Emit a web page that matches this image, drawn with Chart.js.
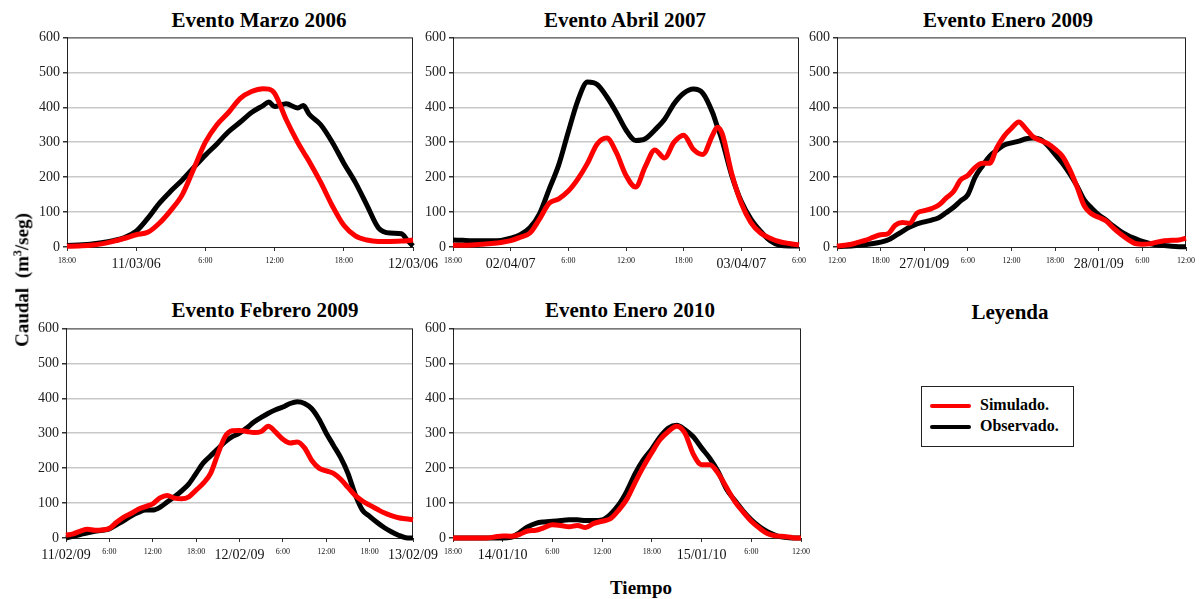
<!DOCTYPE html>
<html>
<head>
<meta charset="utf-8">
<title>Eventos de caudal</title>
<script src="https://cdn.jsdelivr.net/npm/chart.js@4.4.1/dist/chart.umd.min.js"></script>
<style>
    body { margin: 0; background: #fff; }
    #page { position: relative; width: 1201px; height: 599px; overflow: hidden;
            font-family: 'Liberation Serif', 'Times New Roman', serif; color: #000; }
    .plot { position: absolute; }
    .ttl { position: absolute; font-weight: bold; font-size: 21px; line-height: 22px;
           white-space: nowrap; transform: translateX(-50%); }
    #ylab { position: absolute; left: 22px; top: 280px; font-weight: bold; font-size: 19px;
            white-space: nowrap; transform: translate(-50%, -50%) rotate(-90deg); }
    #xlab { position: absolute; left: 641px; top: 577px; font-weight: bold; font-size: 19px;
            transform: translateX(-50%); }
    #legbox { position: absolute; left: 921px; top: 386px; width: 153px; height: 61px;
              border: 1px solid #222; box-sizing: border-box; }
    .legrow { position: absolute; left: 8px; font-weight: bold; font-size: 16px; line-height: 18px; white-space: nowrap; }
    .legrow span.ln { display: inline-block; width: 41px; height: 4px; border-radius: 2px;
                      vertical-align: middle; margin-right: 9px; }
</style>
</head>
<body>
<div id="page">
    <div class="ttl" style="left:259px;top:9px">Evento Marzo 2006</div>
    <div class="ttl" style="left:625px;top:9px">Evento Abril 2007</div>
    <div class="ttl" style="left:1008px;top:9px">Evento Enero 2009</div>
    <div class="ttl" style="left:265px;top:299px">Evento Febrero 2009</div>
    <div class="ttl" style="left:630px;top:299px">Evento Enero 2010</div>
    <div class="ttl" style="left:1010px;top:301px">Leyenda</div>

    <div class="plot" id="w1"><canvas id="c1"></canvas></div>
    <div class="plot" id="w2"><canvas id="c2"></canvas></div>
    <div class="plot" id="w3"><canvas id="c3"></canvas></div>
    <div class="plot" id="w4"><canvas id="c4"></canvas></div>
    <div class="plot" id="w5"><canvas id="c5"></canvas></div>

    <div id="ylab">Caudal&nbsp; (m<sup style="font-size:12px">3</sup>/seg)</div>
    <div id="xlab">Tiempo</div>

    <div id="legbox">
        <div class="legrow" style="top:9px"><span class="ln" style="background:#ff0000"></span>Simulado.</div>
        <div class="legrow" style="top:30px"><span class="ln" style="background:#000"></span>Observado.</div>
    </div>
</div>

<script>
// caudal en m3/seg, eje x en horas desde el inicio de cada grafico

// Evento Marzo 2006 (inicio 10/03/06 18:00)
const marzoHoras = [0, 1, 2, 3, 4, 5, 6, 7, 8, 9, 10, 11, 12, 13, 14, 15, 16, 17, 17.5, 18, 19, 20, 20.5, 21, 22, 23, 24, 25, 26, 27, 28, 29, 29.5, 30];
const marzoSim = [2, 3, 5, 9, 16, 25, 35, 42, 68, 105, 150, 225, 300, 350, 385, 425, 445, 453, 452, 440, 365, 300, 272, 245, 185, 118, 62, 32, 20, 16, 16, 17, 18, 20];
const marzoObs = [4, 6, 8, 12, 18, 27, 45, 82, 125, 160, 192, 228, 263, 295, 330, 357, 385, 405, 415, 402, 410, 398, 405, 380, 350, 300, 240, 185, 120, 55, 40, 38, 20, 3];
const marzoTicks = [0, 6, 12, 18, 24, 30];
const marzoTickLabels = ['18:00', '11/03/06', '6:00', '12:00', '18:00', '12/03/06'];

// Evento Abril 2007 (inicio 01/04/07 18:00)
const abrilHoras = [0, 1, 2, 3, 4, 5, 6, 7, 8, 9, 10, 11, 12, 13, 14, 15, 16, 17, 18, 19, 20, 21, 22, 23, 24, 25, 26, 27, 27.5, 28, 29, 30, 31, 32, 33, 34, 35, 36];
const abrilSim = [5, 5, 6, 8, 10, 13, 18, 28, 40, 80, 125, 138, 160, 195, 240, 295, 312, 270, 205, 172, 230, 278, 255, 300, 320, 280, 265, 320, 343, 325, 210, 125, 70, 40, 25, 15, 10, 6];
const abrilObs = [20, 19, 18, 18, 18, 19, 25, 35, 55, 95, 165, 235, 330, 420, 472, 465, 430, 385, 335, 305, 310, 335, 365, 410, 440, 452, 440, 385, 345, 305, 205, 130, 80, 45, 18, 5, 3, 3];
const abrilTicks = [0, 6, 12, 18, 24, 30, 36];
const abrilTickLabels = ['18:00', '02/04/07', '6:00', '12:00', '18:00', '03/04/07', '6:00'];

// Evento Enero 2009 (inicio 26/01/09 12:00)
const enero09Horas = [0, 1, 2, 3, 4, 5, 6, 7, 8, 9, 10, 11, 12, 13, 14, 15, 16, 17, 18, 19, 20, 21, 22, 23, 24, 25, 26, 27, 28, 29, 30, 31, 32, 33, 34, 35, 36, 37, 38, 39, 40, 41, 42, 43, 44, 45, 46, 47, 48];
const enero09Sim = [2, 5, 8, 14, 20, 28, 35, 38, 62, 70, 68, 97, 104, 110, 120, 140, 158, 192, 205, 228, 240, 240, 285, 318, 340, 358, 338, 315, 305, 296, 280, 260, 222, 173, 118, 95, 85, 75, 55, 37, 22, 10, 8, 9, 14, 18, 19, 20, 25];
const enero09Obs = [1, 2, 3, 5, 7, 10, 14, 20, 32, 45, 57, 66, 72, 77, 84, 98, 113, 132, 150, 200, 232, 260, 277, 292, 298, 303, 310, 312, 308, 290, 265, 240, 210, 175, 135, 112, 92, 77, 60, 45, 33, 24, 16, 10, 6, 4, 2, 1, 1];
const enero09Ticks = [0, 6, 12, 18, 24, 30, 36, 42, 48];
const enero09TickLabels = ['12:00', '18:00', '27/01/09', '6:00', '12:00', '18:00', '28/01/09', '6:00', '12:00'];

// Evento Febrero 2009 (inicio 11/02/09 0:00)
const febreroHoras = [0, 1, 2, 3, 4, 5, 6, 7, 8, 9, 10, 11, 12, 13, 14, 15, 16, 17, 18, 19, 20, 21, 22, 23, 24, 25, 26, 27, 28, 29, 30, 31, 32, 33, 34, 35, 36, 37, 38, 39, 40, 41, 42, 43, 44, 45, 46, 47, 48];
const febreroSim = [8, 12, 20, 25, 22, 23, 27, 45, 60, 70, 82, 90, 98, 115, 122, 114, 112, 118, 137, 157, 185, 240, 290, 307, 308, 305, 302, 305, 320, 303, 283, 272, 275, 258, 222, 200, 192, 185, 168, 145, 122, 106, 94, 83, 72, 64, 58, 55, 52];
const febreroObs = [0, 5, 10, 15, 19, 22, 26, 38, 50, 63, 73, 80, 80, 88, 103, 118, 135, 155, 185, 215, 235, 255, 275, 290, 300, 315, 332, 345, 357, 367, 375, 385, 390, 385, 370, 340, 300, 265, 230, 185, 125, 80, 62, 45, 30, 18, 8, 1, 0];
const febreroTicks = [0, 6, 12, 18, 24, 30, 36, 42, 48];
const febreroTickLabels = ['11/02/09', '6:00', '12:00', '18:00', '12/02/09', '6:00', '12:00', '18:00', '13/02/09'];

// Evento Enero 2010 (inicio 13/01/10 18:00)
const enero10Horas = [0, 1, 2, 3, 4, 5, 6, 7, 8, 9, 10, 11, 12, 13, 14, 15, 16, 17, 18, 19, 20, 21, 22, 23, 24, 25, 26, 27, 28, 29, 30, 31, 32, 33, 34, 35, 36, 37, 38, 39, 40, 41, 42];
const enero10Sim = [0, 0, 0, 0, 0, 3, 6, 5, 10, 20, 22, 30, 38, 36, 32, 36, 30, 42, 48, 55, 80, 112, 160, 205, 245, 282, 305, 320, 300, 240, 210, 210, 185, 145, 105, 75, 48, 28, 12, 6, 4, 1, 0];
const enero10Obs = [0, 0, 0, 0, 0, 0, 0, 2, 15, 32, 42, 46, 48, 50, 52, 52, 50, 50, 52, 68, 95, 135, 185, 225, 255, 290, 315, 323, 310, 290, 258, 228, 190, 140, 108, 78, 52, 32, 17, 7, 2, 0, 0];
const enero10Ticks = [0, 6, 12, 18, 24, 30, 36, 42];
const enero10TickLabels = ['18:00', '14/01/10', '6:00', '12:00', '18:00', '15/01/10', '6:00', '12:00'];

const yTicks = [0, 100, 200, 300, 400, 500, 600];

const fontFamily = "'Liberation Serif', 'Times New Roman', serif";

// marco negro alrededor del area de graficado (como en Excel)
const framePlugin = {
    id: 'frame',
    beforeDatasetsDraw: function (chart) {
        const a = chart.chartArea;
        const ctx = chart.ctx;
        ctx.save();
        ctx.strokeStyle = '#222';
        ctx.lineWidth = 1;
        ctx.strokeRect(a.left + 0.5, a.top + 0.5, a.right - a.left - 1, a.bottom - a.top);
        ctx.restore();
    }
};

function pairs(hours, values) {
    return hours.map(function (h, i) { return { x: h, y: values[i] }; });
}

function makeChart(id, wrapId, rect, hours, sim, obs, ticks, tickLabels) {
    const padL = 50, padR = 32, padT = 10, padB = 30;
    const w = rect.r - rect.l + padL + padR;
    const h = rect.b - rect.t + padT + padB;
    const wrap = document.getElementById(wrapId);
    wrap.style.left = (rect.l - padL) + 'px';
    wrap.style.top = (rect.t - padT) + 'px';
    const canvas = document.getElementById(id);
    canvas.width = w;
    canvas.height = h;
    canvas.style.width = w + 'px';
    canvas.style.height = h + 'px';

    return new Chart(canvas.getContext('2d'), {
        type: 'line',
        data: {
            datasets: [{
                label: 'Simulado.',
                data: pairs(hours, sim),
                borderColor: '#ff0000',
                borderWidth: 5,
                pointRadius: 0,
                cubicInterpolationMode: 'monotone',
                clip: false
            }, {
                label: 'Observado.',
                data: pairs(hours, obs),
                borderColor: '#000000',
                borderWidth: 5,
                pointRadius: 0,
                cubicInterpolationMode: 'monotone',
                clip: false
            }]
        },
        options: {
            responsive: false,
            animation: false,
            devicePixelRatio: 1,
            layout: { padding: { left: 0, right: padR, top: padT, bottom: 0 } },
            scales: {
                x: {
                    type: 'linear',
                    min: ticks[0],
                    max: ticks[ticks.length - 1],
                    afterBuildTicks: function (scale) {
                        scale.ticks = ticks.map(function (v) { return { value: v }; });
                    },
                    afterFit: function (scale) { scale.height = padB; },
                    grid: { drawOnChartArea: false, drawTicks: true, tickLength: 4, tickColor: '#333' },
                    border: { color: '#222', width: 1 },
                    ticks: {
                        autoSkip: false,
                        maxRotation: 0,
                        minRotation: 0,
                        padding: 5,
                        color: '#111',
                        callback: function (value) { return tickLabels[ticks.indexOf(value)]; },
                        font: function (c) {
                            const lab = tickLabels[ticks.indexOf(c.tick ? c.tick.value : -1)] || '';
                            return lab.indexOf('/') >= 0 ? { family: fontFamily, size: 14 } : { family: fontFamily, size: 8 };
                        }
                    }
                },
                y: {
                    min: 0,
                    max: 600,
                    afterBuildTicks: function (scale) {
                        scale.ticks = yTicks.map(function (v) { return { value: v }; });
                    },
                    afterFit: function (scale) { scale.width = padL; },
                    grid: {
                        color: function (c) {
                            return (c.tick && (c.tick.value === 0 || c.tick.value === 600)) ? 'rgba(0,0,0,0)' : '#c8c8c8';
                        },
                        lineWidth: 1.5,
                        tickLength: 4,
                        tickColor: '#333'
                    },
                    border: { color: '#222', width: 1 },
                    ticks: { padding: 3, color: '#222', font: { family: fontFamily, size: 14 } }
                }
            },
            plugins: {
                legend: { display: false },
                tooltip: { enabled: false }
            }
        },
        plugins: [framePlugin]
    });
}

document.addEventListener('DOMContentLoaded', function () {
    makeChart('c1', 'w1', { l: 67, t: 36, r: 413, b: 247 }, marzoHoras, marzoSim, marzoObs, marzoTicks, marzoTickLabels);
    makeChart('c2', 'w2', { l: 453, t: 36, r: 799, b: 247 }, abrilHoras, abrilSim, abrilObs, abrilTicks, abrilTickLabels);
    makeChart('c3', 'w3', { l: 837, t: 36, r: 1186, b: 247 }, enero09Horas, enero09Sim, enero09Obs, enero09Ticks, enero09TickLabels);
    makeChart('c4', 'w4', { l: 66, t: 327, r: 413, b: 538 }, febreroHoras, febreroSim, febreroObs, febreroTicks, febreroTickLabels);
    makeChart('c5', 'w5', { l: 453, t: 327, r: 801, b: 538 }, enero10Horas, enero10Sim, enero10Obs, enero10Ticks, enero10TickLabels);
});
</script>
</body>
</html>
